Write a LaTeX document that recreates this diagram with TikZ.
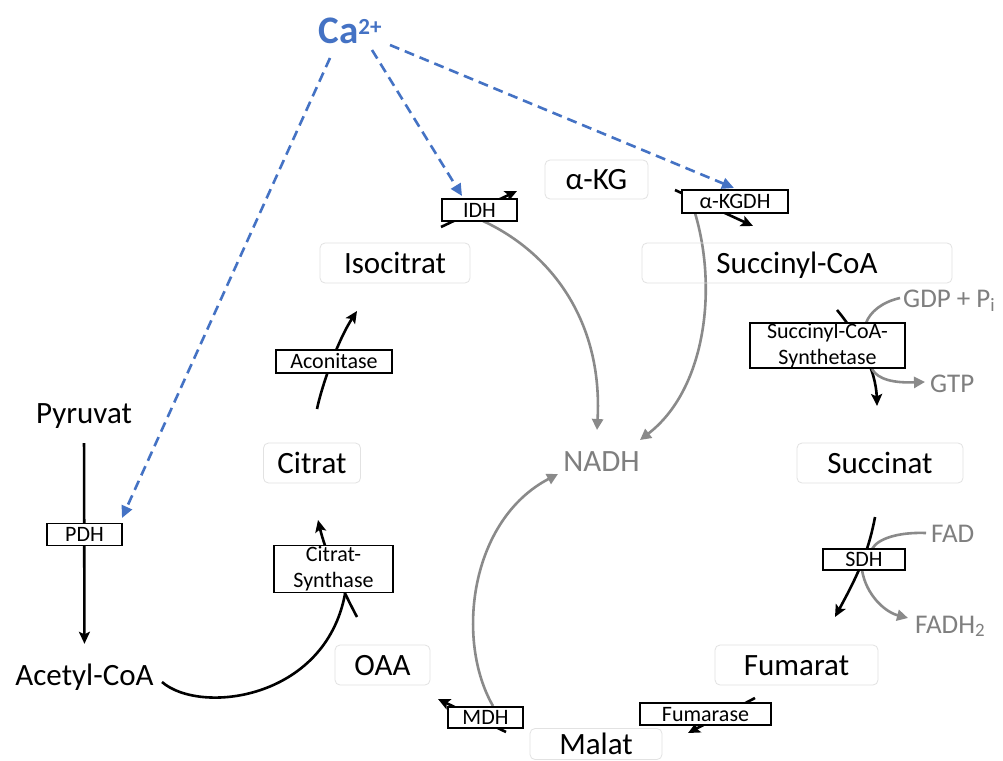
\documentclass[tikz,border=0pt]{standalone}
\usepackage{fontspec}
\setmainfont{Carlito}
\usetikzlibrary{arrows.meta}
\definecolor{cablue}{HTML}{4472C4}
\definecolor{cogray}{HTML}{8A8A8A}
\definecolor{txgray}{HTML}{7F7F7F}
\definecolor{boxgray}{HTML}{E2E2E2}
\pgfdeclarelayer{bg}
\pgfdeclarelayer{paper}
\pgfsetlayers{paper,bg,main}
\begin{document}
\begin{tikzpicture}[x=1pt,y=-1pt,
  met/.style={draw=boxgray,line width=0.8pt,rounded corners=5pt,inner sep=0pt,font=\fontsize{31}{33}\selectfont,text height=20pt,text depth=0pt},
  lbl/.style={inner sep=0pt,font=\fontsize{31}{33}\selectfont,text height=20pt,text depth=0pt},
  side/.style={inner sep=0pt,font=\fontsize{27}{29}\selectfont,text=txgray,anchor=base west},
  enz/.style={draw=black,line width=1.5pt,fill=white,inner sep=0pt,font=\fontsize{22}{26}\selectfont,align=center},
  enzone/.style={enz,text height=14pt,text depth=0pt},
  rx/.style={line width=2.6pt,draw=black},
  rxa/.style={rx,-{Stealth[length=12pt,width=11pt,inset=2.5pt]}},
  gy/.style={line width=2.6pt,draw=cogray},
  gya/.style={gy,-{Triangle[length=11pt,width=11pt]}},
  caarrow/.style={line width=2.6pt,draw=cablue,dash pattern=on 10pt off 6pt,-{Triangle[length=12pt,width=11pt]}},
]
\begin{pgfonlayer}{paper}
\fill[white] (0,0) rectangle (1003,760);
\end{pgfonlayer}
\useasboundingbox (0,0) rectangle (1003,760);

% Calcium
\node[text=cablue,inner sep=0pt,font=\bfseries\fontsize{39}{41}\selectfont,text height=25pt,text depth=0pt] (ca) at (350,31) {Ca\raisebox{9pt}{\fontsize{23}{25}\selectfont 2+}};

% metabolites
\node[met,minimum width=150pt,minimum height=40pt] (iso) at (395,263) {Isocitrat};
\node[met,minimum width=103pt,minimum height=39pt] (akg) at (596.5,179.5) {α-KG};
\node[met,minimum width=310pt,minimum height=40pt] (succoa) at (797,263) {Succinyl-CoA};
\node[met,minimum width=97pt,minimum height=40pt] (cit) at (312,463) {Citrat};
\node[met,minimum width=166pt,minimum height=40pt] (succ) at (880,463) {Succinat};
\node[met,minimum width=163pt,minimum height=40pt] (fum) at (796.5,665) {Fumarat};
\node[met,minimum width=95pt,minimum height=40pt] (oaa) at (382.5,665) {OAA};
\node[met,minimum width=132pt,minimum height=31pt] (mal) at (596,744) {Malat};
\node[lbl] (pyr) at (84,413) {Pyruvat};
\node[lbl] (acoa) at (84.5,675) {Acetyl-CoA};
\node[lbl,text=txgray] (nadh) at (601.5,461) {NADH};

% cofactors
\node[side] (gdp) at (903,307) {GDP + P\textsubscript{i}};
\node[side] (gtp) at (930,392) {GTP};
\node[side] (fad) at (931,542) {FAD};
\node[side] (fadh) at (915,633) {FADH\textsubscript{2}};

% enzymes
\node[enzone,minimum width=75pt,minimum height=22pt] (pdh) at (84.5,534.5) {PDH};
\node[enzone,minimum width=75pt,minimum height=22pt] (idh) at (479.5,210) {IDH};
\node[enzone,minimum width=106pt,minimum height=23pt] (akgdh) at (735,201.5) {α-KGDH};
\node[enzone,minimum width=116pt,minimum height=23pt] (aco) at (334,361.5) {Aconitase};
\node[enz,minimum width=119pt,minimum height=47pt] (cs) at (333.5,569) {Citrat-\\Synthase};
\node[enz,minimum width=155pt,minimum height=45pt] (scs) at (827.5,345.5) {Succinyl-CoA-\\Synthetase};
\node[enzone,minimum width=82pt,minimum height=21pt] (sdh) at (864,559.5) {SDH};
\node[enzone,minimum width=131pt,minimum height=22pt] (fuma) at (705.5,714) {Fumarase};
\node[enzone,minimum width=75pt,minimum height=21pt] (mdh) at (485.5,717.5) {MDH};

% free ends
\coordinate (acoaOut) at (162,682);
\coordinate (csIn) at (345,594);
\coordinate (oaaOut) at (357,617);
\coordinate (csOut) at (318,520);
\coordinate (acoIn) at (317,409);
\coordinate (acoOut) at (357,311);
\coordinate (idhIn) at (441,227);
\coordinate (idhOut) at (517,191);
\coordinate (akgdhIn) at (675,190);
\coordinate (akgdhOut) at (753,226);
\coordinate (scsIn) at (837,310);
\coordinate (scsOut) at (877,406);
\coordinate (sdhIn) at (875,517);
\coordinate (sdhOut) at (835,617);
\coordinate (fumaIn) at (755,698);
\coordinate (fumaOut) at (688,733);
\coordinate (mdhIn) at (506,732);
\coordinate (mdhOut) at (438,699);
\coordinate (gdpIn) at (900,298);
\coordinate (scsG) at (866,323);
\coordinate (scsGout) at (872,369);
\coordinate (gtpIn) at (925,382);
\coordinate (fadIn) at (926,533);
\coordinate (sdhG) at (872,549);
\coordinate (sdhGout) at (862,570);
\coordinate (fadhIn) at (908,618);
\coordinate (idhG) at (483,221);
\coordinate (nadhA) at (597,430);
\coordinate (akgdhG) at (695,213);
\coordinate (nadhB) at (640,440);
\coordinate (mdhG) at (493,706);
\coordinate (nadhC) at (558,474);
\coordinate (caA) at (330,58);
\coordinate (caB) at (372,50);
\coordinate (caC) at (390,45);
\coordinate (pdhT) at (122,518);
\coordinate (idhT) at (462,196);
\coordinate (akgdhT) at (734,188);

\begin{pgfonlayer}{bg}
% black reactions
\draw[rxa,shorten <=20pt,shorten >=21pt] (pyr.south) -- (acoa.north);
\draw[rx] (acoaOut) .. controls (200,715) and (325,700) .. (csIn);
\draw[rxa] (oaaOut) .. controls (340,585) and (325,550) .. (csOut);
\draw[rxa] (acoIn) .. controls (322,385) and (338,340) .. (acoOut);
\draw[rxa] (idhIn) -- (idhOut);
\draw[rxa] (akgdhIn) -- (akgdhOut);
\draw[rxa] (scsIn) .. controls (858,335) and (876,370) .. (scsOut);
\draw[rxa] (sdhIn) .. controls (868,555) and (855,580) .. (sdhOut);
\draw[rxa] (fumaIn) -- (fumaOut);
\draw[rxa] (mdhIn) -- (mdhOut);
% gray cofactors
\draw[gy] (gdpIn) .. controls (882,302) and (870,312) .. (scsG);
\draw[gya] (scsGout) .. controls (878,380) and (895,383) .. (gtpIn);
\draw[gy] (fadIn) .. controls (900,532) and (878,538) .. (sdhG);
\draw[gya] (sdhGout) .. controls (866,595) and (885,612) .. (fadhIn);
\draw[gya] (idhG) .. controls (550,252) and (603,320) .. (nadhA);
\draw[gya] (akgdhG) .. controls (718,290) and (705,390) .. (nadhB);
\draw[gya] (mdhG) .. controls (455,640) and (470,520) .. (nadhC);
% calcium activation
\draw[caarrow] (caA) -- (pdhT);
\draw[caarrow] (caB) -- (idhT);
\draw[caarrow] (caC) -- (akgdhT);
\end{pgfonlayer}
\end{tikzpicture}
\end{document}
